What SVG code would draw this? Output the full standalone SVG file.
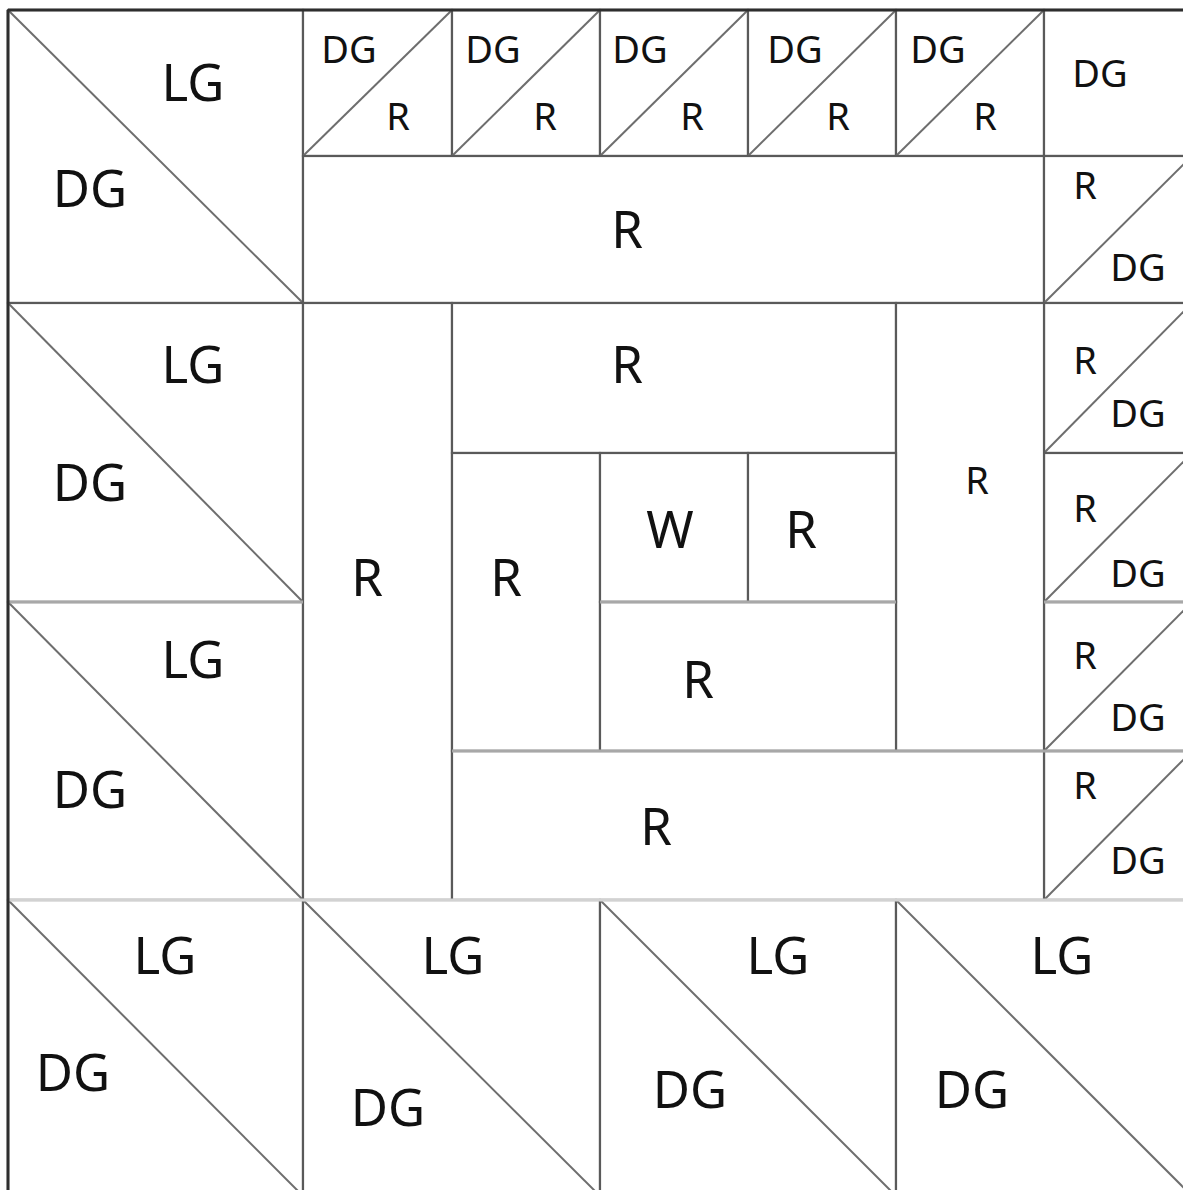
<svg xmlns="http://www.w3.org/2000/svg" width="1183" height="1190" viewBox="0 0 1183 1190">
<style>
.c{fill:#fff;stroke:#5a5a5a;stroke-width:2.2}
.d{stroke:#6e6e6e;stroke-width:2;fill:none}
.lt{stroke:#d2d2d2;stroke-width:3;fill:none}
.md{stroke:#a8a8a8;stroke-width:3;fill:none}
.dk{stroke:#2e2e2e;stroke-width:3;fill:none}
text{font-family:"Noto Sans","Open Sans","DejaVu Sans",sans-serif;fill:#111;text-anchor:middle}
.b{font-size:51px}
.s{font-size:38px}
</style>
<rect width="1183" height="1190" fill="#fff"/>
<!-- Top-left big HST -->
<g id="hst-tl"><rect class="c" x="8" y="10" width="295" height="293"/><line class="d" x1="8" y1="10" x2="303" y2="303"/><text class="b" x="193" y="101">LG</text><text class="b" x="90" y="207">DG</text></g>
<!-- top row small HSTs -->
<g id="top1"><rect class="c" x="303" y="10" width="149" height="146"/><line class="d" x1="303" y1="156" x2="452" y2="10"/><text class="s" x="349" y="63">DG</text><text class="s" x="398" y="130">R</text></g>
<g id="top2"><rect class="c" x="452" y="10" width="148" height="146"/><line class="d" x1="452" y1="156" x2="600" y2="10"/><text class="s" x="493" y="63">DG</text><text class="s" x="545" y="130">R</text></g>
<g id="top3"><rect class="c" x="600" y="10" width="148" height="146"/><line class="d" x1="600" y1="156" x2="748" y2="10"/><text class="s" x="640" y="63">DG</text><text class="s" x="692" y="130">R</text></g>
<g id="top4"><rect class="c" x="748" y="10" width="148" height="146"/><line class="d" x1="748" y1="156" x2="896" y2="10"/><text class="s" x="795" y="63">DG</text><text class="s" x="838" y="130">R</text></g>
<g id="top5"><rect class="c" x="896" y="10" width="148" height="146"/><line class="d" x1="896" y1="156" x2="1044" y2="10"/><text class="s" x="938" y="63">DG</text><text class="s" x="985" y="130">R</text></g>
<g id="top-dg"><rect class="c" x="1044" y="10" width="150" height="146"/><text class="s" x="1100" y="87">DG</text></g>
<!-- long R bar -->
<g id="bar-top"><rect class="c" x="303" y="156" width="741" height="147"/><text class="b" x="627" y="248">R</text></g>
<!-- right column HSTs -->
<g id="rc1"><rect class="c" x="1044" y="156" width="150" height="147"/><line class="d" x1="1044" y1="303" x2="1192" y2="156"/><text class="s" x="1085" y="199">R</text><text class="s" x="1138" y="281">DG</text></g>
<g id="rc2"><rect class="c" x="1044" y="303" width="150" height="150"/><line class="d" x1="1044" y1="453" x2="1192" y2="303"/><text class="s" x="1085" y="374">R</text><text class="s" x="1138" y="427">DG</text></g>
<g id="rc3"><rect class="c" x="1044" y="453" width="150" height="149"/><line class="d" x1="1044" y1="602" x2="1192" y2="453"/><text class="s" x="1085" y="522">R</text><text class="s" x="1138" y="587">DG</text></g>
<g id="rc4"><rect class="c" x="1044" y="602" width="150" height="149"/><line class="d" x1="1044" y1="751" x2="1192" y2="602"/><text class="s" x="1085" y="669">R</text><text class="s" x="1138" y="731">DG</text></g>
<g id="rc5"><rect class="c" x="1044" y="751" width="150" height="149"/><line class="d" x1="1044" y1="900" x2="1192" y2="751"/><text class="s" x="1085" y="799">R</text><text class="s" x="1138" y="874">DG</text></g>
<!-- left column HSTs -->
<g id="lc1"><rect class="c" x="8" y="303" width="295" height="299"/><line class="d" x1="8" y1="303" x2="303" y2="602"/><text class="b" x="193" y="383">LG</text><text class="b" x="90" y="501">DG</text></g>
<g id="lc2"><rect class="c" x="8" y="602" width="295" height="298"/><line class="d" x1="8" y1="602" x2="303" y2="900"/><text class="b" x="193" y="678">LG</text><text class="b" x="90" y="808">DG</text></g>
<!-- centre log cabin -->
<g id="r-left"><rect class="c" x="303" y="303" width="149" height="597"/><text class="b" x="367" y="596">R</text></g>
<g id="r-top-inner"><rect class="c" x="452" y="303" width="444" height="150"/><text class="b" x="627" y="383">R</text></g>
<g id="r-right"><rect class="c" x="896" y="303" width="148" height="448"/><text class="s" x="977" y="494">R</text></g>
<g id="r-inner-left"><rect class="c" x="452" y="453" width="148" height="298"/><text class="b" x="506" y="596">R</text></g>
<g id="w-centre"><rect class="c" x="600" y="453" width="148" height="149"/><text class="b" x="670" y="548">W</text></g>
<g id="r-centre-right"><rect class="c" x="748" y="453" width="148" height="149"/><text class="b" x="801" y="548">R</text></g>
<g id="r-inner-bottom"><rect class="c" x="600" y="602" width="296" height="149"/><text class="b" x="698" y="698">R</text></g>
<g id="r-bottom"><rect class="c" x="452" y="751" width="592" height="149"/><text class="b" x="656" y="845">R</text></g>
<!-- bottom row HSTs -->
<g id="bt1"><rect class="c" x="8" y="900" width="295" height="296"/><line class="d" x1="8" y1="900" x2="303" y2="1196"/><text class="b" x="165" y="974">LG</text><text class="b" x="73" y="1091">DG</text></g>
<g id="bt2"><rect class="c" x="303" y="900" width="297" height="296"/><line class="d" x1="303" y1="900" x2="600" y2="1196"/><text class="b" x="453" y="974">LG</text><text class="b" x="388" y="1126">DG</text></g>
<g id="bt3"><rect class="c" x="600" y="900" width="296" height="296"/><line class="d" x1="600" y1="900" x2="896" y2="1196"/><text class="b" x="778" y="974">LG</text><text class="b" x="690" y="1108">DG</text></g>
<g id="bt4"><rect class="c" x="896" y="900" width="296" height="296"/><line class="d" x1="896" y1="900" x2="1192" y2="1196"/><text class="b" x="1062" y="974">LG</text><text class="b" x="972" y="1108">DG</text></g>
<!-- seam shading -->
<g id="seams">
<line class="lt" x1="8" y1="900" x2="1183" y2="900"/>
<line class="md" x1="8" y1="602" x2="303" y2="602"/>
<line class="md" x1="1044" y1="602" x2="1183" y2="602"/>
<line class="md" x1="1044" y1="751" x2="1183" y2="751"/>
<line class="md" x1="452" y1="751" x2="1044" y2="751"/>
<line class="md" x1="600" y1="602" x2="896" y2="602"/>
<line class="dk" x1="8" y1="10" x2="1183" y2="10"/>
<line class="dk" x1="8" y1="10" x2="8" y2="1190"/>
</g>
</svg>
